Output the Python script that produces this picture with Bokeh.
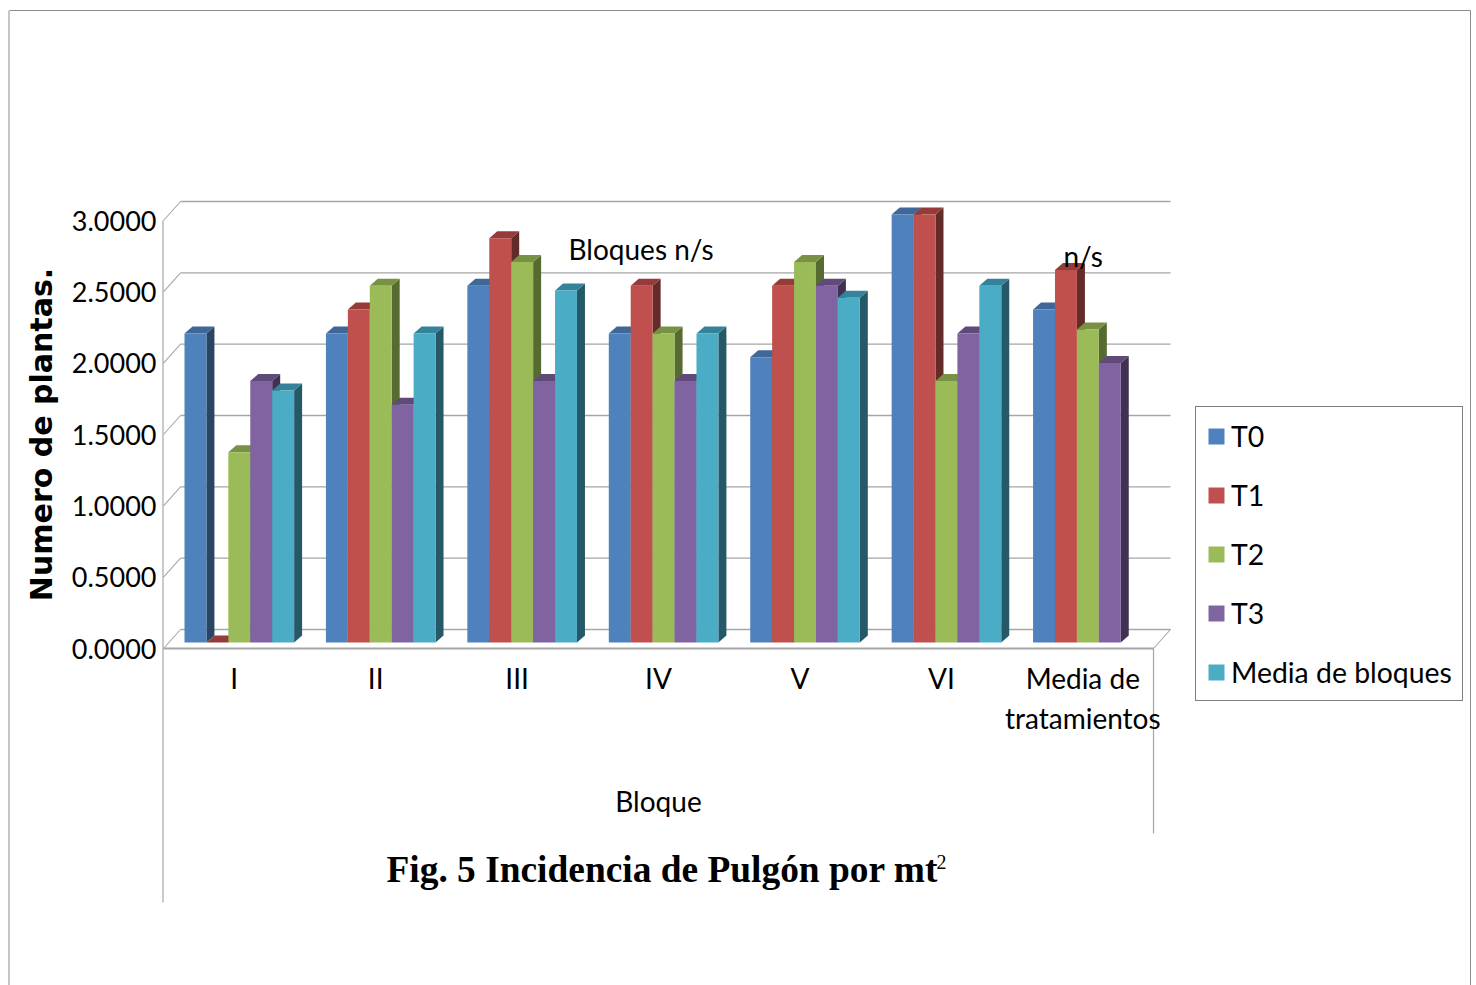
from bokeh.plotting import figure
from bokeh.embed import file_html
from bokeh.resources import INLINE
from bokeh.models import (Range1d, LinearAxis, FixedTicker, Legend, LegendItem, Label, NumeralTickFormatter)

# ---- data ----
bloques = ["I", "II", "III", "IV", "V", "VI", "Media de\ntratamientos"]
T0 = [2.1667, 2.1667, 2.5, 2.1667, 2.0, 3.0, 2.3333]
T1 = [0.0, 2.3333, 2.8333, 2.5, 2.5, 3.0, 2.6111]
T2 = [1.3333, 2.5, 2.6667, 2.1667, 2.6667, 1.8333, 2.1944]
T3 = [1.8333, 1.6667, 1.8333, 1.8333, 2.5, 2.1667, 1.9583]
media_bloques = [1.7667, 2.1667, 2.4667, 2.1667, 2.4167, 2.5, None]
series_names = ["T0", "T1", "T2", "T3", "Media de bloques"]
y_ticks = [0, 0.5, 1, 1.5, 2, 2.5, 3]

# ---- styles ----
front = ["#4F81BD", "#C0504D", "#9BBB59", "#8064A2", "#4BACC6"]
top = ["#3F6797", "#953B39", "#789145", "#5F4A7A", "#35839A"]
side = ["#2A4463", "#632B2A", "#556B2F", "#403152", "#255968"]
GREY = "#A6A6A6"
FONT = "Lato"

O = 0
W, H = 1476, 985
# page pixel anchors of the axes
X0, X7 = 163.0, 1153.0
Y0, Y3 = 648.0, 220.0
ux = (X7 - X0) / 7
uy = (Y0 - Y3) / 3
fx = lambda px: (px - X0) / ux
fy = lambda py: (Y0 - py) / uy
dx = lambda d: d / ux
dy = lambda d: d / uy

p = figure(width=W, height=H, output_backend="svg", toolbar_location=None,
           x_range=Range1d(fx(O), fx(O + W)), y_range=Range1d(fy(O + H), fy(O)),
           x_axis_type=None, y_axis_type=None, min_border=0,
           min_border_left=0, min_border_right=0, min_border_top=0, min_border_bottom=0,
           outline_line_color=None)
p.xgrid.visible = False
p.ygrid.visible = False

# page frame
p.multi_line(xs=[[fx(8.5), fx(8.5)], [fx(9), fx(1470)], [fx(1470), fx(1470)]],
             ys=[[fy(10), fy(985)], [fy(10), fy(10)], [fy(10), fy(985)]],
             line_color="#8C8C8C", line_width=1)

# walls
WX, WY = dx(17), dy(19)
p.segment(x0=[WX] * 7, x1=[7 + WX] * 7, y0=[v + WY for v in y_ticks], y1=[v + WY for v in y_ticks],
          line_color=GREY, line_width=1.3)
p.segment(x0=[0] * 7, x1=[WX] * 7, y0=y_ticks, y1=[v + WY for v in y_ticks],
          line_color=GREY, line_width=1.1)
p.segment(x0=[7], x1=[7 + WX], y0=[0], y1=[WY], line_color=GREY, line_width=1.1)
p.segment(x0=[0], x1=[7], y0=[0], y1=[0], line_color=GREY, line_width=2)
p.segment(x0=[fx(162.5)], x1=[fx(162.5)], y0=[3], y1=[fy(902)], line_color=GREY, line_width=1.2)
p.segment(x0=[7], x1=[7], y0=[0], y1=[fy(833)], line_color=GREY, line_width=1.2)

# bars
BW = 0.155
START = 0.1485
BASE = dy(6)
DX, DY = dx(8), dy(7)
rows = [T0, T1, T2, T3, media_bloques]
items = []
for k, vals in enumerate(rows):
    idx = [i for i, v in enumerate(vals) if v is not None]
    l = [i + START + k * BW for i in idx]
    r = [a + BW for a in l]
    t = [vals[i] + BASE for i in idx]
    b = [BASE] * len(idx)
    p.patches(xs=[[a, a + DX, a + DX, a] for a in r],
              ys=[[c, c + DY, d + DY, d] for c, d in zip(b, t)],
              fill_color=side[k], line_color=None)
    p.patches(xs=[[a, c, c + DX, a + DX] for a, c in zip(l, r)],
              ys=[[d, d, d + DY, d + DY] for d in t],
              fill_color=top[k], line_color=None)
    q = p.quad(left=l, right=r, top=t, bottom=b, fill_color=front[k], line_color=None)
    items.append(LegendItem(label=series_names[k], renderers=[q]))

# axes
yaxis = LinearAxis(fixed_location=0, bounds=(0, 3), ticker=FixedTicker(ticks=y_ticks),
                   formatter=NumeralTickFormatter(format="0.0000"),
                   axis_label="Numero de plantas.")
yaxis.axis_line_color = None
yaxis.major_tick_line_color = None
yaxis.minor_tick_line_color = None
yaxis.major_label_text_font = FONT
yaxis.major_label_text_font_size = "27px"
yaxis.major_label_text_color = "#000000"
yaxis.major_label_standoff = 1
yaxis.axis_label_text_font = "DejaVu Sans"
yaxis.axis_label_text_font_style = "bold"
yaxis.axis_label_text_font_size = "30px"
yaxis.axis_label_text_color = "#000000"
yaxis.axis_label_standoff = 10
p.add_layout(yaxis, "left")

xaxis = LinearAxis(fixed_location=0, bounds=(0, 7), ticker=FixedTicker(ticks=[i + 0.5 for i in range(7)]),
                   axis_label="Bloque")
xaxis.major_label_overrides = {i + 0.5: s for i, s in enumerate(bloques)}
xaxis.axis_line_color = None
xaxis.major_tick_line_color = None
xaxis.minor_tick_line_color = None
xaxis.major_label_text_font = FONT
xaxis.major_label_text_font_size = "28px"
xaxis.major_label_text_color = "#000000"
xaxis.major_label_standoff = 6
xaxis.axis_label_text_font = FONT
xaxis.axis_label_text_font_style = "normal"
xaxis.axis_label_text_font_size = "28px"
xaxis.axis_label_text_color = "#000000"
xaxis.axis_label_standoff = 46
p.add_layout(xaxis, "below")

# annotations
for txt, px, py in [("Bloques n/s", 568, 248), ("n/s", 1063, 255)]:
    p.add_layout(Label(x=fx(px), y=fy(py), text=txt, text_font=FONT, text_font_size="28px",
                       text_baseline="middle", text_color="#000000"))
p.add_layout(Label(x=fx(386), y=fy(869), text="Fig. 5 Incidencia de Pulgón por mt",
                   text_font="Liberation Serif", text_font_style="bold", text_font_size="37.4px",
                   text_baseline="middle", text_color="#000000"))
p.add_layout(Label(x=fx(936), y=fy(861), text="2", text_font="Liberation Serif",
                   text_font_size="20px", text_baseline="middle", text_color="#000000"))

# legend
leg = Legend(items=items, location=(1195, H - 701), orientation="vertical",
             label_text_font=FONT, label_text_font_size="28.4px", label_text_color="#000000",
             glyph_width=20, glyph_height=20, label_height=37, spacing=22,
             padding=10, margin=0, label_standoff=5,
             border_line_color="#000000", border_line_width=1, background_fill_alpha=1)
p.add_layout(leg, "center")

open("out.html", "w").write(file_html(p, INLINE))
